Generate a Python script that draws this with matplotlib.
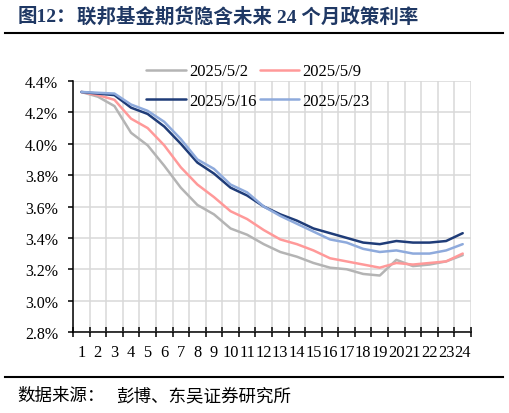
import matplotlib
matplotlib.use("Agg")
import matplotlib.pyplot as plt
import numpy as np
from matplotlib.ticker import FixedLocator, FuncFormatter

plt.rcParams['font.family'] = ['Liberation Serif', 'Noto Sans CJK SC']

months = list(range(1, 25))
rate_0502 = [4.33, 4.30, 4.24, 4.07, 3.99, 3.86, 3.72, 3.61, 3.55, 3.46, 3.42, 3.36,
             3.31, 3.28, 3.24, 3.21, 3.20, 3.17, 3.16, 3.26, 3.22, 3.23, 3.25, 3.29]
rate_0509 = [4.33, 4.31, 4.28, 4.16, 4.10, 3.99, 3.85, 3.74, 3.66, 3.57, 3.52, 3.45,
             3.39, 3.36, 3.32, 3.27, 3.25, 3.23, 3.21, 3.24, 3.23, 3.24, 3.25, 3.30]
rate_0516 = [4.33, 4.32, 4.31, 4.23, 4.19, 4.11, 4.00, 3.88, 3.81, 3.72, 3.67, 3.60,
             3.55, 3.51, 3.46, 3.43, 3.40, 3.37, 3.36, 3.38, 3.37, 3.37, 3.38, 3.43]
rate_0523 = [4.33, 4.325, 4.32, 4.25, 4.21, 4.14, 4.03, 3.90, 3.84, 3.74, 3.69, 3.60,
             3.54, 3.49, 3.44, 3.39, 3.37, 3.33, 3.31, 3.32, 3.30, 3.30, 3.32, 3.36]
labels = ["2025/5/2", "2025/5/9", "2025/5/16", "2025/5/23"]
colors = ["#b4b4b4", "#ff9999", "#1f3c78", "#8eaadc"]
yticks = [2.8, 3.0, 3.2, 3.4, 3.6, 3.8, 4.0, 4.2, 4.4]

fig = plt.figure(figsize=(5.09, 4.14), dpi=100)
ax = fig.add_axes([73 / 509, 1 - 333 / 414, 398 / 509, 251 / 414])

handles = []
for series, lab, col in zip([rate_0502, rate_0509, rate_0516, rate_0523], labels, colors):
    h, = ax.plot(months, series, color=col, lw=1.8, label=lab, solid_capstyle='round')
    handles.append(h)

ax.set_xlim(0.5, 24.5)
ax.set_ylim(2.8, 4.4)
ax.set_yticks(yticks)
ax.yaxis.set_major_formatter(FuncFormatter(lambda v, p: f"{v:.1f}%"))
ax.set_xticks(months)
ax.xaxis.set_minor_locator(FixedLocator(np.arange(0.5, 25, 1)))

ax.grid(True, axis='y', which='major', color='#d9d9d9', lw=1.1)
ax.grid(True, axis='x', which='minor', color='#d9d9d9', lw=1.1)
ax.set_axisbelow(True)

for s in ['top', 'right']:
    ax.spines[s].set_visible(False)
for s in ['left', 'bottom']:
    ax.spines[s].set_linewidth(1.1)
    ax.spines[s].set_color('black')

ax.tick_params(axis='y', which='major', direction='out', length=3.6, width=1.1,
               pad=7, labelsize=11.5)
ax.tick_params(axis='x', which='major', length=0, pad=9, labelsize=11.8)
ax.tick_params(axis='x', which='minor', direction='inout', length=6.5, width=1.1)

order = [0, 2, 1, 3]
ax.legend([handles[i] for i in order], [labels[i] for i in order], ncol=2,
          loc='center', bbox_to_anchor=(258 / 509, 1 - 87 / 414),
          bbox_transform=fig.transFigure, frameon=False, fontsize=12,
          handlelength=2.35, handletextpad=0.2, columnspacing=0.2,
          labelspacing=0.8, borderpad=0)

fig.text(18 / 509, 1 - 17 / 414, "图12：", fontsize=14, fontweight='bold',
         color='#1f3864', va='center', ha='left')
fig.text(77 / 509, 1 - 17 / 414, "联邦基金期货隐含未来 24 个月政策利率",
         fontsize=14, fontweight='bold', color='#1f3864', va='center', ha='left')
fig.add_artist(plt.Line2D([5 / 509, 503 / 509], [1 - 34 / 414, 1 - 34 / 414],
                          color='black', lw=1.5, transform=fig.transFigure))
fig.add_artist(plt.Line2D([5 / 509, 503 / 509], [1 - 378 / 414, 1 - 378 / 414],
                          color='black', lw=1.5, transform=fig.transFigure))
fig.text(17 / 509, 1 - 396 / 414, "数据来源：", fontsize=12.6,
         family=['Noto Sans CJK SC'], color='black', va='center', ha='left')
fig.text(116 / 509, 1 - 396 / 414, "彭博、东吴证券研究所", fontsize=12.6,
         family=['Noto Sans CJK SC'], color='black', va='center', ha='left')

fig.savefig("out.png", dpi=100)
